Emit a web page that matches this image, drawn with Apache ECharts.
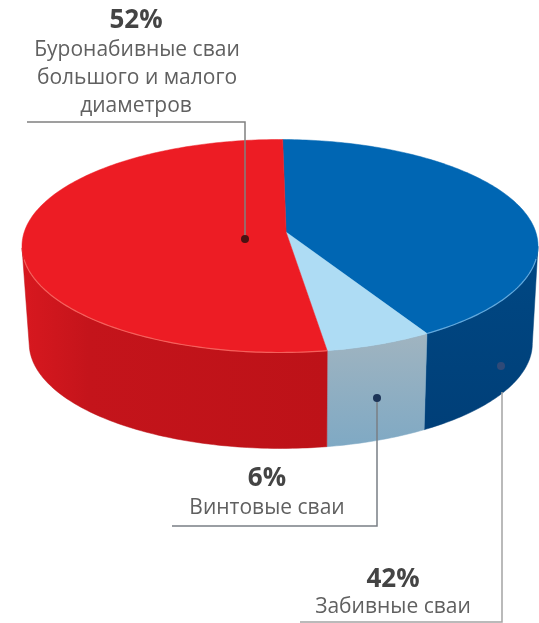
<!DOCTYPE html>
<html>
<head>
<meta charset="utf-8">
<style>html,body{margin:0;padding:0;background:#fff}#chart{width:539px;height:623px}</style>
<script src="https://cdn.jsdelivr.net/npm/echarts@6/dist/echarts.min.js"></script>
</head>
<body>
<div id="chart"></div>
<script>
// Share of pile types, clockwise from twelve o'clock
const categories = ['Забивные сваи', 'Винтовые сваи', 'Буронабивные сваи большого и малого диаметров'];
const shares = [42, 6, 52];
const topColors = ['#0066b3', '#aedcf4', '#ed1c24'];
const wallColors = [
  [[0, '#004884'], [1, '#003f78']],
  [[0, '#a0b4c0'], [1, '#7fa9c4']],
  [[0, '#c4141b'], [1, '#bd1218']]
];
const wallEdgeTint = [null, null, '#d8181f'];
const rimColors = ['#62a8dc', null, '#f4605c'];

// Disc model: unit circle viewed in perspective, thickness given as a lower rim ellipse
const VIEW_A = 0.13, VIEW_B = 0.024, START_DEG = -0.7;
const LOWER = { dx: 0.003, dy: 0.915, sx: 0.975, sy: 0.986 };
const total = shares.reduce((a, b) => a + b, 0);

function project(X, Y) {
  const d1 = 1 + VIEW_B * X;
  const x1 = (X + VIEW_B) / d1;
  const y1 = Y * Math.sqrt(1 - VIEW_B * VIEW_B) / d1;
  const d2 = 1 - VIEW_A * y1;
  return [x1 * Math.sqrt(1 - VIEW_A * VIEW_A) / d2, (y1 - VIEW_A) / d2];
}
function rim(deg) {
  const t = (deg + START_DEG) * Math.PI / 180;
  return project(Math.sin(t), -Math.cos(t));
}
function lower(p) {
  return [LOWER.dx + LOWER.sx * p[0], LOWER.dy + LOWER.sy * p[1]];
}
function arc(i) {
  const before = shares.slice(0, i).reduce((a, b) => a + b, 0);
  const a0 = before / total * 360, a1 = (before + shares[i]) / total * 360;
  const pts = [];
  const n = Math.max(4, Math.ceil(a1 - a0));
  for (let k = 0; k <= n; k++) pts.push(rim(a0 + (a1 - a0) * k / n));
  return pts;
}

const chart = echarts.init(document.getElementById('chart'), null, { renderer: 'canvas' });

function renderWall(params, api) {
  const i = api.value(0);
  const front = arc(i).filter(p => p[1] >= 0);
  if (front.length < 2) return null;
  const back = front.slice().reverse().map(lower);
  const pts = front.concat(back).map(p => api.coord(p));
  const stops = wallColors[i].map(s => ({ offset: s[0], color: s[1] }));
  // The red wall catches more light towards its far left end
  const fill = wallEdgeTint[i]
    ? new echarts.graphic.LinearGradient(0, 0, 1, 0, [
        { offset: 0, color: wallEdgeTint[i] },
        { offset: 0.22, color: stops[0].color },
        { offset: 1, color: stops[1].color }
      ])
    : new echarts.graphic.LinearGradient(0, 0, 0, 1, stops);
  return { type: 'polygon', shape: { points: pts }, style: { fill: fill, stroke: stops[1].color, lineWidth: 0.5 } };
}

function renderTop(params, api) {
  const i = api.value(0);
  const pts = [project(0, 0)].concat(arc(i)).map(p => api.coord(p));
  return { type: 'polygon', shape: { points: pts }, style: { fill: topColors[i], stroke: topColors[i], lineWidth: 0.5 } };
}

function renderRim(params, api) {
  const i = api.value(0);
  if (!rimColors[i]) return null;
  const pts = arc(i).filter(p => p[1] >= 0.12).map(p => api.coord(p));
  if (pts.length < 2) return null;
  return { type: 'polyline', shape: { points: pts }, style: { fill: 'none', stroke: rimColors[i], lineWidth: 1.2 } };
}

const sliceIdx = categories.map((c, i) => [i]);
const labelFont = '"Open Sans", "Noto Sans", sans-serif';
const grey = '#606060';

function caption(text, x, y, size, weight, color) {
  return { type: 'text', x: x, y: y, silent: true, z: 20,
    style: { text: text, x: 0, y: 0, align: 'center', verticalAlign: 'middle', fontFamily: labelFont, fontSize: size, fontWeight: weight, fill: color } };
}
function leader(points, color) {
  return { type: 'polyline', z: 10, silent: true, shape: { points: points }, style: { stroke: color, lineWidth: 1.5, fill: 'none' } };
}
function dot(x, y, color) {
  return { type: 'circle', z: 11, silent: true, shape: { cx: x, cy: y, r: 4 }, style: { fill: color } };
}

chart.setOption({
  animation: false,
  backgroundColor: '#ffffff',
  grid: { left: 22, width: 516, top: 139.5, height: 213 },
  xAxis: { type: 'value', min: -1, max: 1, show: false },
  yAxis: { type: 'value', min: -1, max: 1, inverse: true, show: false },
  series: [
    { type: 'custom', coordinateSystem: 'cartesian2d', clip: false, z: 2, data: sliceIdx, renderItem: renderWall, encode: { x: 0 } },
    { type: 'custom', coordinateSystem: 'cartesian2d', clip: false, z: 3, data: sliceIdx, renderItem: renderTop, encode: { x: 0 } },
    { type: 'custom', coordinateSystem: 'cartesian2d', clip: false, z: 4, data: sliceIdx, renderItem: renderRim, encode: { x: 0 } }
  ],
  graphic: [
    leader([[27, 122], [245, 122], [245, 239]], '#808080'),
    dot(245, 239, '#4a1212'),
    leader([[377, 398], [377, 526], [172, 526]], '#7a7f85'),
    dot(377, 398, '#1d3558'),
    leader([[502, 392], [502, 622], [300, 622]], '#a4a4a4'),
    dot(501, 366, '#2f4a78'),
    caption(shares[2] + '%', 136, 21, 26, 'bold', '#444444'),
    caption('Буронабивные сваи', 137, 50, 21, 'normal', grey),
    caption('большого и малого', 137, 78, 21, 'normal', grey),
    caption('диаметров', 136, 106, 21, 'normal', grey),
    caption(shares[1] + '%', 267, 479, 26, 'bold', '#444444'),
    caption('Винтовые сваи', 267, 508, 21, 'normal', grey),
    caption(shares[0] + '%', 393, 580, 26, 'bold', '#444444'),
    caption('Забивные сваи', 393, 607, 21, 'normal', grey)
  ]
});
</script>
</body>
</html>
